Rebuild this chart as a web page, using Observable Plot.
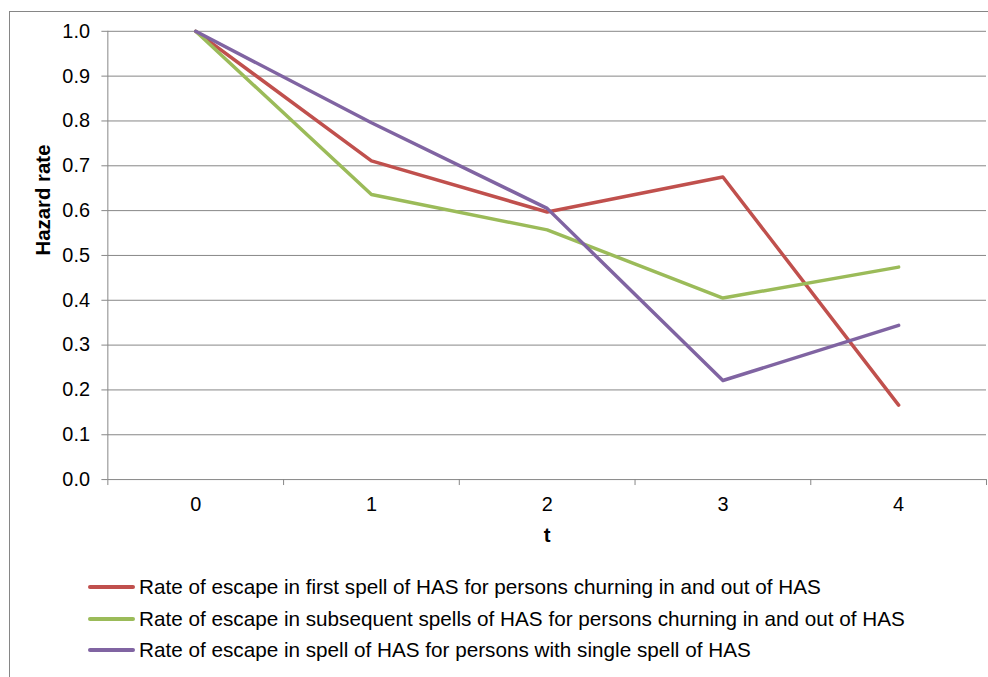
<!DOCTYPE html>
<html>
<head>
<meta charset="utf-8">
<script src="https://cdn.jsdelivr.net/npm/d3@7"></script>
<script src="https://cdn.jsdelivr.net/npm/@observablehq/plot@0.6"></script>
<style>
  html, body { margin: 0; padding: 0; background: #fff; overflow: hidden; }
  body { width: 988px; height: 677px; position: relative; font-family: "Liberation Sans", Arial, sans-serif; }
  #frame { position: absolute; left: 9px; top: 11px; width: 1000px; height: 700px; border: 1.5px solid #868686; box-sizing: border-box; }
  #chart { position: absolute; left: 0; top: 0; }
  #legend { position: absolute; left: 88px; top: 577px; font-size: 20.7px; color: #000; }
  .row { position: absolute; left: 0; height: 20px; display: flex; align-items: center; white-space: nowrap; }
  .swatch { width: 47px; height: 4px; border-radius: 2px; margin-right: 4px; flex: none; }
</style>
</head>
<body>
<div id="frame"></div>
<div id="chart"></div>
<div id="legend"></div>
<script>
// Duration since entry into HAS (t) and escape hazard rates for each spell type
const t = [0, 1, 2, 3, 4];
const firstSpell = [1.0, 0.711, 0.597, 0.675, 0.166];
const subsequentSpells = [1.0, 0.636, 0.557, 0.405, 0.474];
const singleSpell = [1.0, 0.796, 0.605, 0.221, 0.344];

const seriesNames = [
  "Rate of escape in first spell of HAS for persons churning in and out of HAS",
  "Rate of escape in subsequent spells of HAS for persons churning in and out of HAS",
  "Rate of escape in spell of HAS for persons with single spell of HAS"
];
const seriesColors = ["#C0504D", "#9BBB59", "#8064A2"];
const yTicks = [0, 0.1, 0.2, 0.3, 0.4, 0.5, 0.6, 0.7, 0.8, 0.9, 1.0];

const seriesValues = [firstSpell, subsequentSpells, singleSpell];
const rows = seriesValues.flatMap((vals, s) =>
  t.map((ti, i) => ({t: ti, rate: vals[i], series: seriesNames[s]}))
);
// category boundaries for the x-axis tick marks
const bounds = [-0.5, ...t.map(d => d + 0.5)];

const grey = "#868686";
const font = "\"Liberation Sans\", Arial, sans-serif";

const chart = Plot.plot({
  width: 994,
  height: 565,
  marginLeft: 108,
  marginRight: 2,
  marginTop: 31,
  marginBottom: 83,
  style: {fontFamily: font, fontSize: "20px", color: "#000", background: "transparent", overflow: "visible"},
  x: {domain: [-0.5, 4.5], axis: null},
  y: {domain: [0, 1], axis: null},
  color: {domain: seriesNames, range: seriesColors},
  marks: [
    Plot.gridY(yTicks.slice(1), {stroke: grey, strokeOpacity: 1, strokeWidth: 1}),
    Plot.ruleY([0], {stroke: grey, strokeWidth: 1}),
    Plot.ruleX([-0.5], {stroke: grey, strokeWidth: 1}),
    Plot.axisY({ticks: yTicks, tickSize: 6, tickPadding: 12, tickFormat: d3.format(".1f"), stroke: grey, label: null, fill: "#000", fontSize: 20}),
    Plot.axisX({ticks: bounds, tickSize: 6, tickFormat: () => "", stroke: grey, label: null}),
    Plot.axisX({ticks: t, tickSize: 0, tickPadding: 17, tickFormat: d3.format("d"), label: null, fill: "#000", fontSize: 20}),
    Plot.text(["Hazard rate"], {frameAnchor: "left", dx: -65, rotate: -90, fontWeight: "bold", fontSize: 20.5, fill: "#000"}),
    Plot.text(["t"], {x: 2, y: 0, dy: 56, fontWeight: "bold", fontSize: 20.5, fill: "#000"}),
    Plot.line(rows, {x: "t", y: "rate", z: "series", stroke: "series", strokeWidth: 3.5, strokeLinejoin: "round", strokeLinecap: "round"})
  ]
});
document.getElementById("chart").appendChild(chart);

// legend rows below the plot
const legend = document.getElementById("legend");
const rowTops = [0, 32, 63];
seriesNames.forEach((name, i) => {
  const row = document.createElement("div");
  row.className = "row";
  row.style.top = rowTops[i] + "px";
  const sw = document.createElement("div");
  sw.className = "swatch";
  sw.style.background = seriesColors[i];
  const label = document.createElement("span");
  label.textContent = name;
  row.appendChild(sw);
  row.appendChild(label);
  legend.appendChild(row);
});
</script>
</body>
</html>
